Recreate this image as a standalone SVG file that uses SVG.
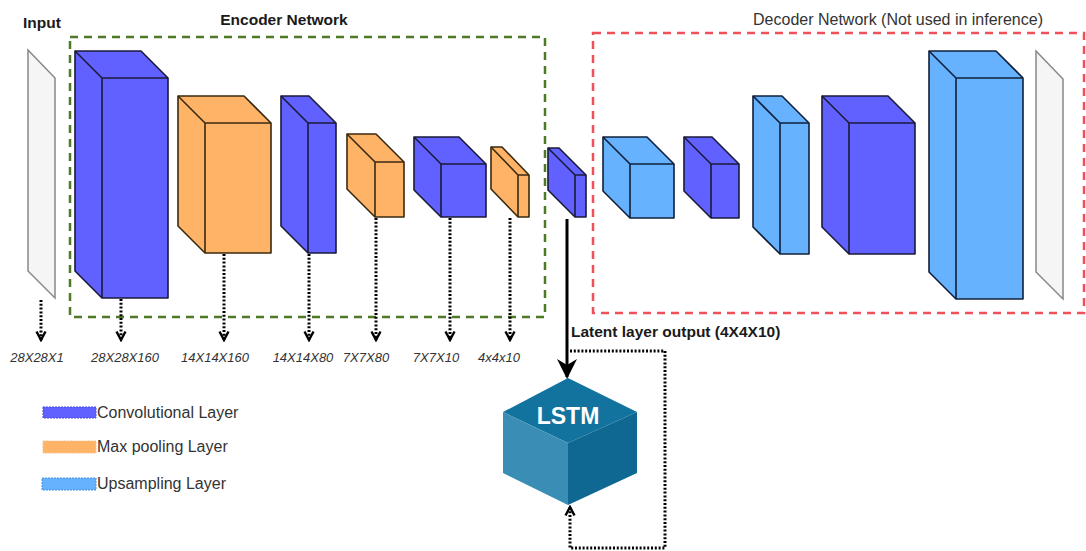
<svg xmlns="http://www.w3.org/2000/svg" width="1086" height="551" viewBox="0 0 1086 551">
<defs>
<style>
.conv{fill:#6161FF;stroke:#1a1a3a;stroke-width:1.6;stroke-linejoin:round}
.pool{fill:#FFB366;stroke:#3a2a10;stroke-width:1.6;stroke-linejoin:round}
.up{fill:#66B2FF;stroke:#10203a;stroke-width:1.6;stroke-linejoin:round}
.slab{fill:#F5F5F5;stroke:#888;stroke-width:1.5}
.inner{fill:none}
.dim{font-family:"Liberation Sans",Arial,sans-serif;font-style:italic;font-size:13px;fill:#333;text-anchor:middle}
.title{font-family:"Liberation Sans",Arial,sans-serif;font-weight:bold;font-size:15.5px;fill:#1a1a1a}
.leg{font-family:"Liberation Sans",Arial,sans-serif;font-size:16px;fill:#333}
.dot{fill:none;stroke:#000;stroke-width:3;stroke-dasharray:2 1.8;marker-end:url(#open)}
</style>
<marker id="open" viewBox="0 0 12 12" refX="10" refY="6" markerWidth="12" markerHeight="12" markerUnits="userSpaceOnUse" orient="auto">
<path d="M1.5,1.5 L10,6 L1.5,10.5" fill="none" stroke="#000" stroke-width="2.4"/>
</marker>
<marker id="solid" viewBox="0 0 10 10" refX="9" refY="5" markerWidth="20" markerHeight="20" markerUnits="userSpaceOnUse" orient="auto">
<path d="M0,0 L10,5 L0,10 L3,5 Z" fill="#000"/>
</marker>
</defs>
<rect width="1086" height="551" fill="#fff"/>

<g id="encoder-box">
<rect x="70" y="37" width="475" height="280" fill="none" stroke="#4E7A27" stroke-width="2.5" stroke-dasharray="8 6"/>
<text class="title" x="284" y="25" text-anchor="middle">Encoder Network</text>
</g>
<g id="decoder-box">
<rect x="593" y="33" width="491" height="280" fill="none" stroke="#F0505A" stroke-width="2.5" stroke-dasharray="8 6"/>
<text x="898" y="25" text-anchor="middle" font-family="'Liberation Sans',Arial,sans-serif" font-size="16" fill="#333">Decoder Network (Not used in inference)</text>
</g>

<g id="input">
<text class="title" x="42" y="28" text-anchor="middle">Input</text>
<path class="slab" d="M28,50 L55,78 V298 L28,271 Z"/>
</g>

<g id="conv1"><path class="conv" d="M75,51 H141 L168,78 V298 H102 L75,271 Z"/><path class="conv inner" d="M75,51 L102,78 H168 M102,78 V298"/></g>
<g id="pool1"><path class="pool" d="M178,96 H244 L271,123 V253 H205 L178,226 Z"/><path class="pool inner" d="M178,96 L205,123 H271 M205,123 V253"/></g>
<g id="conv2"><path class="conv" d="M281,96 H309 L336,123 V253 H308 L281,226 Z"/><path class="conv inner" d="M281,96 L308,123 H336 M308,123 V253"/></g>
<g id="pool2"><path class="pool" d="M347,134 H376 L404,162 V217 H375 L347,189 Z"/><path class="pool inner" d="M347,134 L375,162 H404 M375,162 V217"/></g>
<g id="conv3"><path class="conv" d="M414,137 H459 L486,164 V217 H441 L414,190 Z"/><path class="conv inner" d="M414,137 L441,164 H486 M441,164 V217"/></g>
<g id="pool3"><path class="pool" d="M491,147 H502 L529,175 V217 H518 L491,189 Z"/><path class="pool inner" d="M491,147 L518,175 H529 M518,175 V217"/></g>
<g id="latent"><path class="conv" d="M548,148 H559 L586,175 V217 H575 L548,190 Z"/><path class="conv inner" d="M548,148 L575,175 H586 M575,175 V217"/></g>

<g id="dec1"><path class="up" d="M603,137 H647 L674,164 V218 H630 L603,191 Z"/><path class="up inner" d="M603,137 L630,164 H674 M630,164 V218"/></g>
<g id="dec2"><path class="conv" d="M684,137 H712 L739,164 V218 H711 L684,191 Z"/><path class="conv inner" d="M684,137 L711,164 H739 M711,164 V218"/></g>
<g id="dec3"><path class="up" d="M753,96 H782 L809,123 V254 H780 L753,227 Z"/><path class="up inner" d="M753,96 L780,123 H809 M780,123 V254"/></g>
<g id="dec4"><path class="conv" d="M822,96 H888 L915,123 V254 H849 L822,227 Z"/><path class="conv inner" d="M822,96 L849,123 H915 M849,123 V254"/></g>
<g id="dec5"><path class="up" d="M929,51 H996 L1023,78 V299 H956 L929,272 Z"/><path class="up inner" d="M929,51 L956,78 H1023 M956,78 V299"/></g>
<g id="output"><path class="slab" d="M1036,51 L1063,79 V299 L1036,272 Z"/></g>

<g id="lstm">
<path d="M568,378 L637,412 L568,443 L503,412 Z" fill="#13739F"/>
<path d="M503,412 L568,443 V505 L503,473 Z" fill="#3A8DB5"/>
<path d="M568,443 L637,412 V473 L568,505 Z" fill="#0F6892"/>
<text x="568" y="424" text-anchor="middle" font-family="'Liberation Sans',Arial,sans-serif" font-weight="bold" font-size="23" fill="#fff">LSTM</text>
</g>

<g id="connectors">
<path class="dot" d="M41,300 V340"/>
<path class="dot" d="M121,299 V340"/>
<path class="dot" d="M224,254 V340"/>
<path class="dot" d="M309,254 V340"/>
<path class="dot" d="M376,218 V340"/>
<path class="dot" d="M450,218 V340"/>
<path class="dot" d="M510,218 V340"/>
<path d="M567,219 V377" fill="none" stroke="#000" stroke-width="3" marker-end="url(#solid)"/>
<path class="dot" d="M570,351 H665 V548 H570 V507"/>
</g>

<g id="labels">
<text class="dim" x="37" y="362">28X28X1</text>
<text class="dim" x="125" y="362">28X28X160</text>
<text class="dim" x="215" y="362">14X14X160</text>
<text class="dim" x="303" y="362">14X14X80</text>
<text class="dim" x="366" y="362">7X7X80</text>
<text class="dim" x="436" y="362">7X7X10</text>
<text class="dim" x="499" y="362">4x4x10</text>
<text class="title" x="571" y="337" font-size="16">Latent layer output (4X4X10)</text>
</g>

<g id="legend">
<rect x="43" y="407" width="53" height="11" fill="#6161FF" stroke="#4a4ae0" stroke-dasharray="2 1"/>
<text class="leg" x="97" y="418">Convolutional Layer</text>
<rect x="43" y="441" width="53" height="12" fill="#FFB366" stroke="#f5c08a" stroke-dasharray="2 1"/>
<text class="leg" x="97" y="452">Max pooling Layer</text>
<rect x="42" y="478" width="54" height="12" fill="#66B2FF" stroke="#4a90d9" stroke-dasharray="2 1"/>
<text class="leg" x="97" y="489">Upsampling Layer</text>
</g>
</svg>
